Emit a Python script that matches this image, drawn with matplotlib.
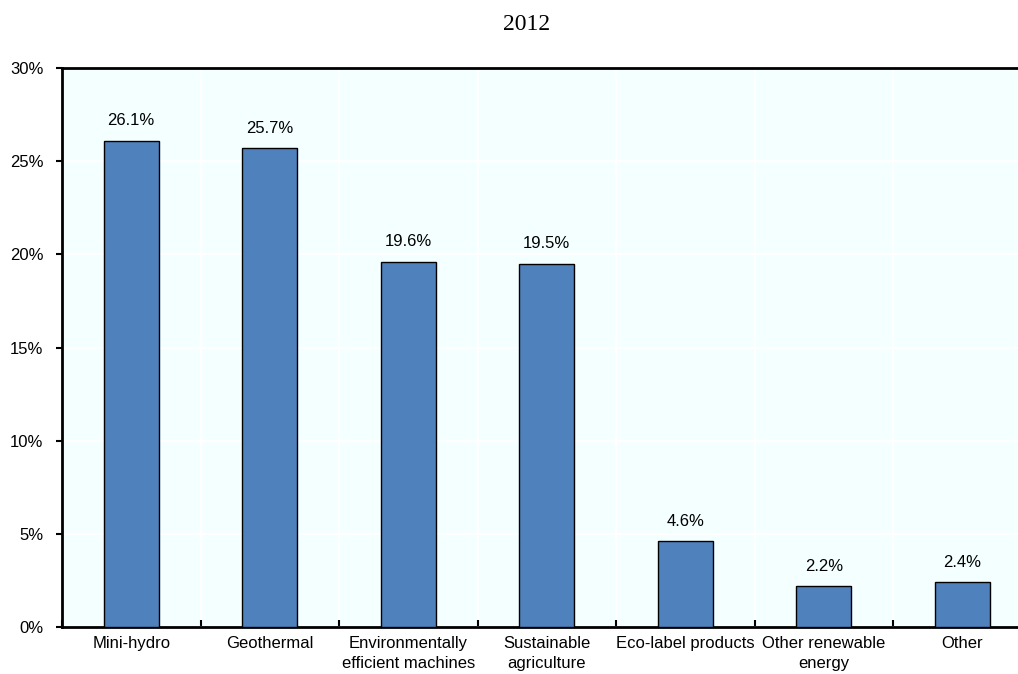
import matplotlib.pyplot as plt
import numpy as np

categories = ["Mini-hydro", "Geothermal", "Environmentally\nefficient machines",
              "Sustainable\nagriculture", "Eco-label products",
              "Other renewable\nenergy", "Other"]
shares = [26.1, 25.7, 19.6, 19.5, 4.6, 2.2, 2.4]
title = "2012"

plt.rcParams['font.family'] = ['Liberation Sans', 'DejaVu Sans']

fig = plt.figure(figsize=(10.18, 6.74), dpi=100)
ax = fig.add_axes([62 / 1018, 47 / 674, (1031.5 - 62) / 1018, 559 / 674])
ax.set_facecolor('#F4FFFF')

x = np.arange(len(categories))
bars = ax.bar(x, shares, width=0.4, color='#4F81BD', edgecolor='black',
              linewidth=1, zorder=3)
for b, v in zip(bars, shares):
    ax.annotate(f"{v}%", (b.get_x() + b.get_width() / 2, v),
                xytext=(0, 9), textcoords='offset points',
                ha='center', va='bottom', fontsize=12)

ax.set_xlim(-0.5, len(categories) - 0.5)
ax.set_ylim(0, 30)
ax.set_yticks(np.arange(0, 31, 5))
ax.set_yticklabels([f"{t}%" for t in range(0, 31, 5)], fontsize=12)
ax.tick_params(axis='y', direction='out', length=4, width=1.5, pad=9.5)

# category boundaries as major ticks, labels on minor ticks
ax.set_xticks(np.arange(-0.5, len(categories), 1))
ax.set_xticklabels([])
ax.set_xticks(x, minor=True)
ax.set_xticklabels(categories, minor=True, fontsize=12, linespacing=1.45)
ax.tick_params(axis='x', which='major', direction='in', length=5, width=1.5)
ax.tick_params(axis='x', which='minor', length=0, pad=6.5)

ax.grid(True, which='major', color='white', linewidth=1.5, zorder=0)

for s in ['left', 'bottom', 'top']:
    ax.spines[s].set_linewidth(2)
    ax.spines[s].set_color('black')
ax.spines['right'].set_visible(False)

fig.text(527 / 1018, 1 - 25 / 674, title, ha='center', va='center',
         fontsize=17, family='Liberation Serif')

fig.savefig('out.png', dpi=100)
